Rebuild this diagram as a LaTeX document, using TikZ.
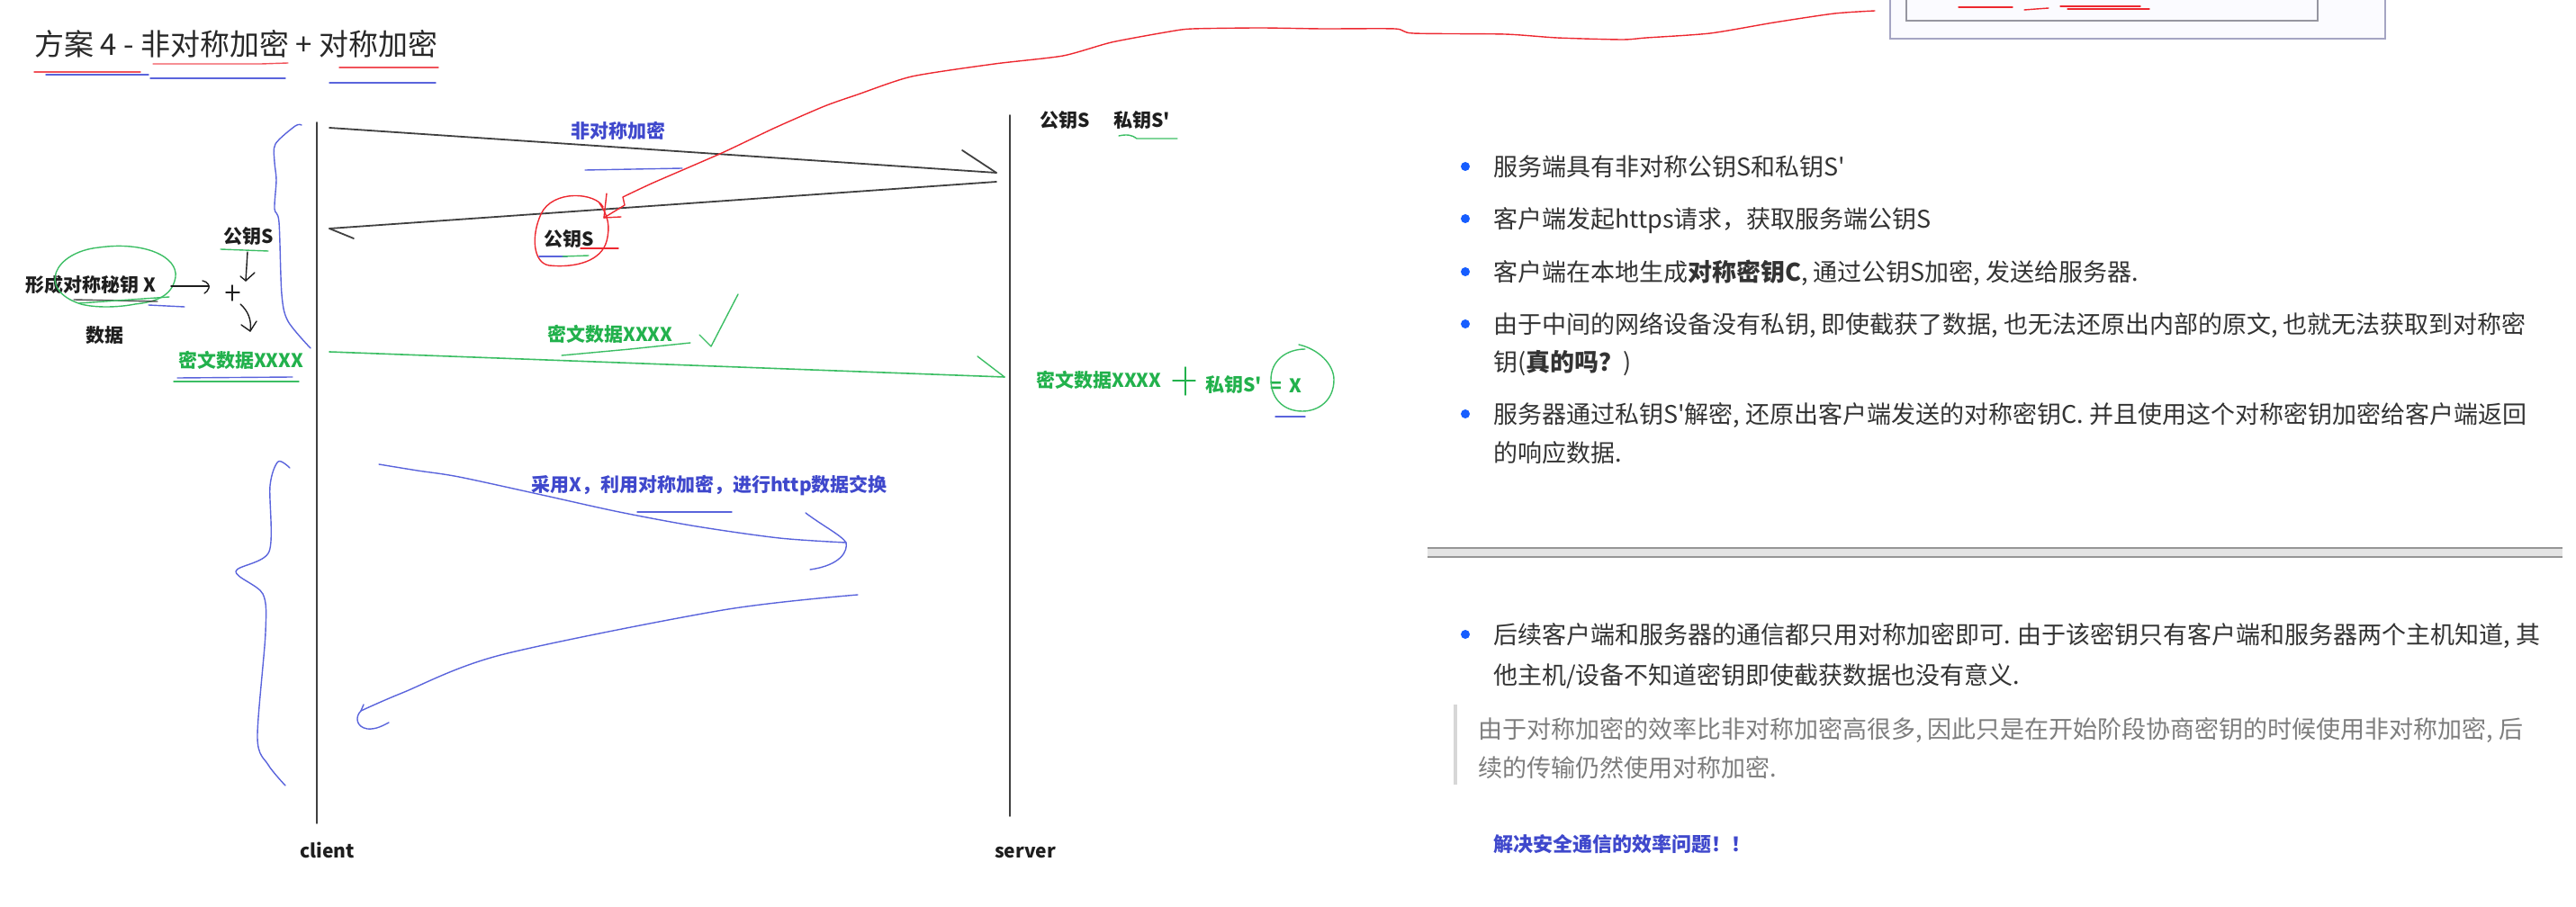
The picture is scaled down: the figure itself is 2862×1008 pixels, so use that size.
\documentclass[tikz,border=0pt]{standalone}
\usepackage{fontspec}
\newfontfamily\cjk{Noto Sans CJK SC}
\setmainfont{Noto Sans CJK SC}
\definecolor{ink}{RGB}{30,30,30}
\definecolor{pred}{RGB}{237,40,48}
\definecolor{pgreen}{RGB}{34,177,76}
\definecolor{pblue}{RGB}{63,72,204}
\definecolor{penblue}{RGB}{90,100,220}
\definecolor{pengreen}{RGB}{60,190,100}
\definecolor{txt}{RGB}{51,51,51}
\definecolor{qtxt}{RGB}{125,125,125}
\definecolor{bul}{RGB}{22,93,255}
\definecolor{titlec}{RGB}{40,40,40}
\definecolor{boxout}{RGB}{165,165,195}
\definecolor{boxfill}{RGB}{251,251,255}
\definecolor{boxin}{RGB}{150,150,160}
\definecolor{rulefill}{RGB}{228,228,228}
\definecolor{ruleline}{RGB}{150,150,150}
\definecolor{quotebar}{RGB}{215,215,215}
\begin{document}
\begin{tikzpicture}[x=1pt,y=-1pt,
  bk/.style={inner sep=0pt, anchor=west, text height=18.5pt, text depth=2.5pt, font=\cjk\fontsize{21}{25}\selectfont\bfseries, text=ink},
  gn/.style={bk, text=pgreen},
  bl/.style={bk, text=pblue},
  rt/.style={inner sep=0pt, anchor=west, text height=23.8pt, text depth=3.2pt, font=\cjk\fontsize{27}{32}\selectfont, text=txt},
  qt/.style={rt, text=qtxt},
  pen/.style={line width=1.4pt, line cap=round, line join=round},
  blk/.style={line width=1.8pt, draw=ink!85, line cap=round},
  bulletdot/.style={fill=bul}
]
\useasboundingbox (0,0) rectangle (2862,1008);

% ---------- top-right cut-off box ----------
\draw[line width=2pt, draw=boxout, fill=boxfill] (2100,-10) rectangle (2650,43);
\draw[line width=2pt, draw=boxin] (2118,-10) rectangle (2575,23);
\draw[pen, pred] (2176,8) -- (2236,8);
\draw[pen, pred] (2249,11) -- (2262,10) -- (2276,9);
\draw[pen, pred] (2289,7) -- (2378,7);
\draw[pen, pred] (2297,10) -- (2388,10);

% ---------- title ----------
\node[inner sep=0pt, anchor=west, text height=29pt, text depth=4pt, font=\cjk\fontsize{33}{38}\selectfont, text=titlec] (title) at (38,49) {方案 4 - 非对称加密 + 对称加密};
\draw[pen, pred!80] (38,80) -- (156,80);
\draw[pen, penblue] (51,83) -- (165,83);
\draw[pen, pred!80] (170,71) -- (290,71) -- (320,70);
\draw[pen, penblue] (167,87) -- (317,87);
\draw[pen, pred!80] (377,75) -- (487,75);
\draw[pen, penblue] (366,92) -- (484,92);

% ---------- lifelines ----------
\coordinate (cTop) at (352,136);
\coordinate (cBot) at (352,915);
\coordinate (sTop) at (1122,128);
\coordinate (sBot) at (1122,907);
\draw[blk] (cTop) -- (cBot);
\draw[blk] (sTop) -- (sBot);
\node[bk, anchor=base west] (client) at (333,953) {client};
\node[bk, anchor=base west] (server) at (1105,953) {server};

% ---------- server keys ----------
\node[bk] (sPub) at (1155,134) {公钥S};
\node[bk] (sPriv) at (1237,134) {私钥S'};
\draw[pen, pengreen] (1243,151) .. controls (1252,149) and (1258,150) .. (1263,154) -- (1308,154);

% ---------- asymmetric request / reply ----------
\node[bl] (asym) at (634,146) {非对称加密};
\draw[pen, penblue] (650,189) -- (758,187);
\coordinate (a1s) at (366,142);
\coordinate (a1e) at (1107,192);
\draw[blk] (a1s) -- (a1e);
\draw[blk] (1069,167) -- (a1e);
\coordinate (a2s) at (1107,202);
\coordinate (a2e) at (366,254);
\draw[blk] (a2s) -- (a2e);
\draw[blk] (393,265) -- (a2e);

\node[bk] (midPub) at (604,266) {公钥S};
\draw[pen, pred] (670,230) .. controls (662,214) and (614,210) .. (601,238) .. controls (590,262) and (592,292) .. (610,295) .. controls (640,298) and (668,290) .. (674,268) .. controls (678,252) and (676,240) .. (666,226);
\draw[pen, pred] (645,276) -- (687,276);
\draw[pen, penblue] (599,285) -- (630,285);
\draw[pen, pengreen] (625,285) -- (654,284);

% red pointer from the top box
\coordinate (redTip) at (671,242);
\draw[pen, pred] plot[smooth, tension=0.4] coordinates {(2083,12) (2038,15) (1971,25) (1900,37) (1829,42) (1802,44) (1730,42) (1672,38) (1570,37) (1550,32) (1469,32) (1400,31) (1325,32) (1300,35) (1235,47) (1181,62) (1105,71) (1013,85) (953,105) (916,118) (861,142) (802,170) (726,203) (692,219)} -- (694,228) -- (redTip);
\draw[pen, pred] (674,215) -- (redTip) -- (690,241);

% ---------- client side computation ----------
\node[bk] (formX) at (28,316) {形成对称秘钥 X};
\draw[pen, pengreen] (90,338) .. controls (40,322) and (60,280) .. (110,275) .. controls (160,268) and (198,285) .. (195,308) .. controls (192,325) and (180,335) .. (150,338) .. controls (130,342) and (105,342) .. (90,338);
\draw[pen, ink!80] (82,333) -- (175,335);
\draw[pen, pengreen] (88,337) -- (188,330);
\draw[pen, penblue] (165,339) -- (205,341);
\node[bk] (data) at (95,372) {数据};
\node[bk] (leftPub) at (248,263) {公钥S};
\draw[pen, pengreen] (245,277) -- (298,279);

\coordinate (arrS) at (190,318);
\coordinate (arrE) at (232,318);
\draw[pen, ink] (arrS) -- (arrE);
\draw[pen, ink] (225,312) .. controls (231,313) and (233,318) .. (232,320) .. controls (231,323) and (229,325) .. (227,326);
\draw[pen, ink] (251,325) -- (266,325);
\draw[pen, ink] (258,317) -- (258,334);
\coordinate (dS) at (275,280);
\coordinate (dE) at (273,312);
\draw[pen, ink] (dS) -- (dE);
\draw[pen, ink] (267,307) -- (dE) -- (283,303);
\coordinate (cS) at (267,338);
\coordinate (cE) at (278,368);
\draw[pen, ink] (cS) .. controls (275,345) and (280,355) .. (cE);
\draw[pen, ink] (268,361) -- (cE) -- (285,357);

\node[gn] (cipherL) at (198,400) {密文数据XXXX};
\draw[pen, penblue] (197,420) -- (325,419);
\draw[pen, pengreen] (193,424) -- (332,424);

% blue brace upper
\draw[pen, penblue] plot[smooth, tension=0.5] coordinates {(335,139) (328,140) (306,160) (305,180) (307,200) (305,232) (310,247) (313,327) (320,357) (345,387)};

% ---------- ciphertext transfer ----------
\coordinate (gS) at (366,391);
\coordinate (gE) at (1116,419);
\draw[pen, pengreen, line width=1.6pt] (gS) -- (gE);
\draw[pen, pengreen] (1086,396) -- (gE);
\node[gn] (cipherM) at (608,371) {密文数据XXXX};
\draw[pen, pengreen] (624,395) -- (700,388) -- (767,381);
\draw[pen, pengreen] (777,372) -- (790,385) -- (820,327);

\node[gn] (cipherR) at (1151,422) {密文数据XXXX};
\draw[pen, pgreen] (1317,408) -- (1317,439);
\draw[pen, pgreen] (1303,423) -- (1328,423);
\node[gn] (privR) at (1339,427) {私钥S'};
\node[gn] (eqR) at (1411,428) {=};
\node[gn] (xR) at (1432,428) {X};
\draw[pen, pengreen] (1443,383) .. controls (1465,388) and (1482,405) .. (1482,422) .. controls (1482,445) and (1465,457) .. (1447,457) .. controls (1425,457) and (1412,442) .. (1412,422) .. controls (1412,400) and (1430,388) .. (1450,388);
\draw[pen, penblue] (1417,463) -- (1450,463);

% ---------- symmetric exchange ----------
\draw[pen, penblue] plot[smooth, tension=0.5] coordinates {(322,520) (309,513) (300,540) (299,613) (262,635) (292,660) (295,703) (286,820) (298,850) (317,873)};
\node[bl] (symText) at (590,538) {采用X，利用对称加密，进行http数据交换};
\draw[pen, penblue] (708,569) -- (813,569);
\coordinate (b1s) at (421,516);
\coordinate (b1e) at (940,603);
\draw[pen, penblue] plot[smooth, tension=0.5] coordinates {(b1s) (464,523) (510,530) (602,550) (688,569) (774,585) (866,598) (b1e)};
\draw[pen, penblue] (895,570) .. controls (915,585) and (935,595) .. (b1e) .. controls (942,612) and (935,628) .. (900,633);
\coordinate (b2s) at (953,661);
\coordinate (b2e) at (401,790);
\draw[pen, penblue] plot[smooth, tension=0.5] coordinates {(b2s) (803,678) (556,728) (447,770) (b2e)} .. controls (394,797) and (396,808) .. (408,810) .. controls (418,811) and (426,806) .. (432,803);
\draw[pen, penblue] (404,783) -- (b2e);

% ---------- right-hand notes ----------
\foreach \yy in {185,243,302,360,460,705} { \fill[bulletdot] (1628,\yy) circle (5pt); }
\node[rt] (r1) at (1659,185) {服务端具有非对称公钥S和私钥S'};
\node[rt] (r2) at (1659,243) {客户端发起https请求，获取服务端公钥S};
\node[rt] (r3) at (1659,302) {客户端在本地生成\textbf{对称密钥C}, 通过公钥S加密, 发送给服务器.};
\node[rt] (r4) at (1659,360) {由于中间的网络设备没有私钥, 即使截获了数据, 也无法还原出内部的原文, 也就无法获取到对称密};
\node[rt] (r4b) at (1659,402) {钥(\textbf{真的吗？})};
\node[rt] (r5) at (1659,460) {服务器通过私钥S'解密, 还原出客户端发送的对称密钥C. 并且使用这个对称密钥加密给客户端返回};
\node[rt] (r5b) at (1659,503) {的响应数据.};

\fill[rulefill] (1586,609) rectangle (2847,619);
\draw[line width=1.5pt, ruleline] (1586,609) -- (2847,609);
\draw[line width=1.5pt, ruleline] (1586,619) -- (2847,619);

\node[rt] (r6) at (1659,705) {后续客户端和服务器的通信都只用对称加密即可. 由于该密钥只有客户端和服务器两个主机知道, 其};
\node[rt] (r6b) at (1659,750) {他主机/设备不知道密钥即使截获数据也没有意义.};
\fill[quotebar] (1615,783) rectangle (1619,872);
\node[qt] (q1) at (1642,810) {由于对称加密的效率比非对称加密高很多, 因此只是在开始阶段协商密钥的时候使用非对称加密, 后};
\node[qt] (q2) at (1642,853) {续的传输仍然使用对称加密.};
\node[inner sep=0pt, anchor=west, text height=19.4pt, text depth=2.6pt, font=\cjk\fontsize{22}{26}\selectfont\bfseries, text=pblue] (solve) at (1659,938) {解决安全通信的效率问题！！};
\end{tikzpicture}
\end{document}
